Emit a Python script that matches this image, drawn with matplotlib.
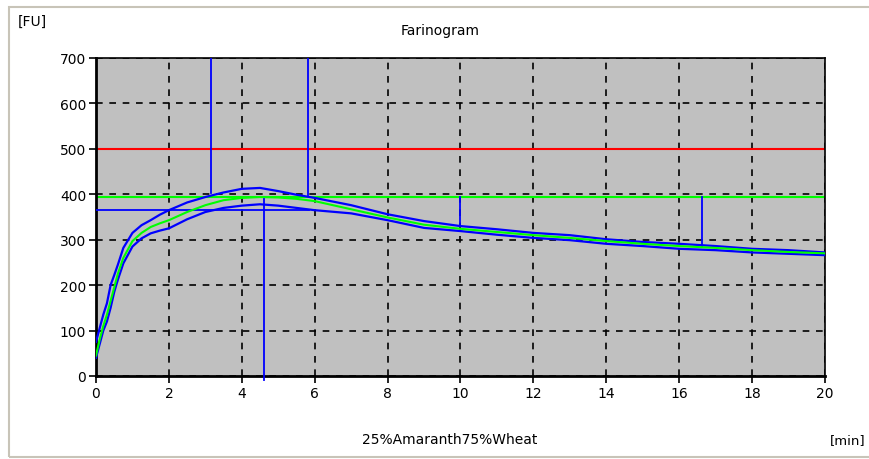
import matplotlib
matplotlib.use("Agg")
import matplotlib.pyplot as plt
from matplotlib.patches import Rectangle

# curve readings (time in min, consistency in FU)
time_min = [0, 0.1, 0.2, 0.3, 0.4, 0.5, 0.6, 0.75, 1.0, 1.25, 1.5, 1.75, 2.0,
            2.5, 3.0, 3.5, 4.0, 4.5, 5.0, 5.5, 6.0, 7.0, 8.0, 9.0, 10.0, 11.0,
            12.0, 13.0, 14.0, 15.0, 16.0, 17.0, 18.0, 19.0, 20.0]
upper_fu = [75, 105, 135, 160, 200, 222, 245, 282, 315, 332, 343, 355, 365,
            382, 394, 404, 412, 414, 407, 399, 392, 376, 356, 341, 330, 323,
            315, 310, 301, 295, 291, 286, 280, 277, 272]
median_fu = [45, 80, 110, 135, 165, 195, 225, 260, 297, 315, 328, 336, 343,
             361, 376, 387, 392, 394, 393, 390, 385, 367, 349, 333, 324, 317,
             310, 304, 297, 291, 286, 282, 277, 273, 270]
lower_fu = [40, 70, 100, 120, 150, 185, 212, 248, 285, 303, 314, 320, 325,
            345, 361, 370, 375, 378, 375, 370, 365, 358, 343, 326, 319, 311,
            304, 299, 291, 286, 280, 277, 272, 269, 266]

# evaluation markers
upper_limit = 500
consistency_line = 395
dev_time = 4.6
dev_peak = 394
band_level = 366
band_end = 5.85
arrival = (3.15, 402)
departure = (5.82, 398)
drops = [(10.0, 332), (16.62, 285)]

x_ticks = list(range(0, 21, 2))
y_ticks = list(range(0, 701, 100))

fig = plt.figure(figsize=(8.7, 4.6), dpi=100)
fig.patches.append(Rectangle((9 / 870, 2 / 460), 1.0, 450 / 460,
                             transform=fig.transFigure, fill=False,
                             edgecolor="#c8c4b8", lw=1.5))
ax = fig.add_axes([96 / 870, 83 / 460, 729 / 870, 318 / 460])
ax.set_facecolor("#c0c0c0")

ax.axhline(upper_limit, color="#ff0000", lw=1.5, zorder=2)
ax.axhline(consistency_line, color="#00ff00", lw=1.5, zorder=2)

ax.plot(time_min, upper_fu, color="#0000ff", lw=1.6, zorder=3)
ax.plot(time_min, lower_fu, color="#0000ff", lw=1.6, zorder=3)
ax.plot(time_min, median_fu, color="#00ff00", lw=1.5, zorder=4)

ax.plot([0, band_end], [band_level, band_level], color="#0000ff", lw=1.3, zorder=3)
ax.plot([dev_time, dev_time], [-9, dev_peak], color="#0000ff", lw=1.3,
        clip_on=False, zorder=3)
ax.plot([arrival[0]] * 2, [arrival[1], 700], color="#0000ff", lw=1.3, zorder=3)
ax.plot([departure[0]] * 2, [departure[1], 700], color="#0000ff", lw=1.3, zorder=3)
for xd, yd in drops:
    ax.plot([xd, xd], [yd, consistency_line], color="#0000ff", lw=1.3, zorder=3)

ax.set_xlim(0, 20)
ax.set_ylim(0, 700)
ax.set_xticks(x_ticks)
ax.set_yticks(y_ticks)
ax.grid(True, color="black", ls=(0, (4, 4)), lw=1.2, zorder=1)
ax.set_axisbelow(True)
ax.tick_params(length=5, width=1.2, labelsize=10, pad=2)
for side in ["left", "bottom"]:
    ax.spines[side].set_linewidth(2)
for side in ["top", "right"]:
    ax.spines[side].set_linewidth(1.2)

fig.text(440 / 870, 1 - 31 / 460, "Farinogram", ha="center", va="center", fontsize=10)
fig.text(18 / 870, 1 - 22 / 460, "[FU]", ha="left", va="center", fontsize=10)
fig.text(450 / 870, 1 - 440 / 460, "25%Amaranth75%Wheat", ha="center", va="center",
         fontsize=10)
fig.text(866 / 870, 1 - 441 / 460, "[min]", ha="right", va="center", fontsize=9.5)

fig.savefig("out.png", dpi=100)
